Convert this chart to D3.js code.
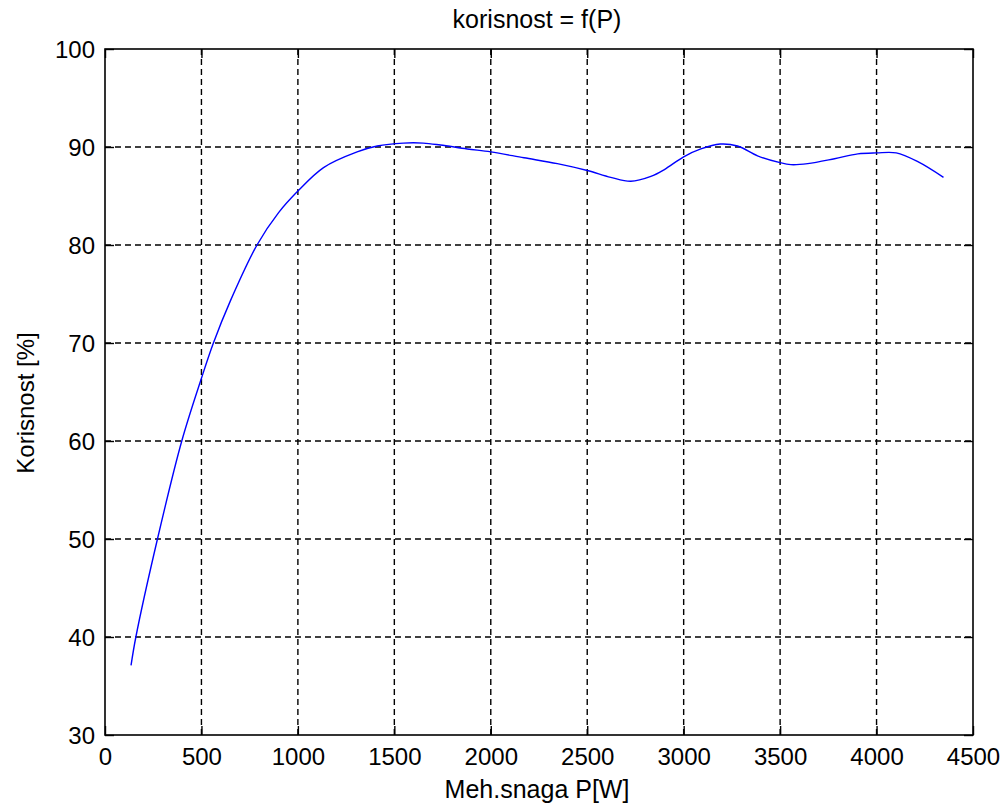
<!DOCTYPE html>
<html>
<head>
<meta charset="utf-8">
<script src="https://cdn.jsdelivr.net/npm/d3@7"></script>
<style>
html,body{margin:0;padding:0;background:#fff;}
svg{display:block;}
text{font-family:"Liberation Sans",Arial,sans-serif;fill:#000;}
</style>
</head>
<body>
<svg id="chart" width="1005" height="808"></svg>
<script>
// Data
const powerW = [135, 160, 272, 398, 500, 562, 650, 788, 900, 1000, 1133, 1307, 1411, 1547, 1650, 1739, 1878, 2000, 2172, 2345, 2500, 2622, 2726, 2830, 2900, 3000, 3089, 3189, 3279, 3383, 3500, 3556, 3643, 3782, 3903, 4000, 4102, 4214, 4347];
const efficiency = [37.1, 40.0, 50.0, 60.0, 66.4, 70.0, 74.3, 80.0, 83.3, 85.5, 87.9, 89.5, 90.1, 90.4, 90.4, 90.2, 89.8, 89.5, 88.9, 88.3, 87.6, 86.9, 86.5, 87.0, 87.7, 89.0, 89.8, 90.3, 90.1, 89.1, 88.4, 88.2, 88.3, 88.8, 89.3, 89.4, 89.4, 88.5, 86.9];
const xTicks = [0, 500, 1000, 1500, 2000, 2500, 3000, 3500, 4000, 4500];
const yTicks = [30, 40, 50, 60, 70, 80, 90, 100];
const titleText = "korisnost = f(P)";
const xLabelText = "Meh.snaga P[W]";
const yLabelText = "Korisnost [%]";

const svg = d3.select("#chart");
const L = 105, R = 973, T = 49, B = 735;
const x = d3.scaleLinear().domain([0, 4500]).range([L, R]);
const y = d3.scaleLinear().domain([30, 100]).range([B, T]);

// grid
const grid = svg.append("g").attr("stroke", "#000").attr("stroke-width", 1.4)
  .attr("stroke-dasharray", "6,4").attr("fill", "none");
xTicks.filter(v => v > 0 && v < 4500).forEach(v => {
  grid.append("line").attr("x1", x(v)).attr("x2", x(v)).attr("y1", T).attr("y2", B);
});
yTicks.filter(v => v > 30 && v < 100).forEach(v => {
  grid.append("line").attr("x1", L).attr("x2", R).attr("y1", y(v)).attr("y2", y(v));
});

// axes (ticks inside, mirrored)
const tl = 9;
const axB = svg.append("g").attr("transform", `translate(0,${B})`)
  .call(d3.axisBottom(x).tickValues(xTicks).tickSizeInner(-tl).tickSizeOuter(0).tickPadding(0).tickFormat(d3.format("d")));
const axT = svg.append("g").attr("transform", `translate(0,${T})`)
  .call(d3.axisTop(x).tickValues(xTicks).tickSizeInner(-tl).tickSizeOuter(0).tickFormat(""));
const axL = svg.append("g").attr("transform", `translate(${L},0)`)
  .call(d3.axisLeft(y).tickValues(yTicks).tickSizeInner(-tl).tickSizeOuter(0).tickFormat(d3.format("d")));
const axR = svg.append("g").attr("transform", `translate(${R},0)`)
  .call(d3.axisRight(y).tickValues(yTicks).tickSizeInner(-tl).tickSizeOuter(0).tickFormat(""));
[axB, axT, axL, axR].forEach(a => {
  a.select(".domain").remove();
  a.selectAll(".tick line").attr("stroke", "#000").attr("stroke-width", 1.4);
});
axB.selectAll(".tick text").attr("y", 30).attr("dy", null)
  .attr("font-size", 24).attr("font-family", "Liberation Sans, Arial, sans-serif").attr("fill", "#000");
axL.selectAll(".tick text").attr("x", -10).attr("dy", 8)
  .attr("font-size", 24).attr("font-family", "Liberation Sans, Arial, sans-serif").attr("fill", "#000");

// box
svg.append("rect").attr("x", L).attr("y", T).attr("width", R - L).attr("height", B - T)
  .attr("fill", "none").attr("stroke", "#000").attr("stroke-width", 1.6);

// curve
const line = d3.line().x((d, i) => x(powerW[i])).y(d => y(d)).curve(d3.curveCatmullRom.alpha(0.5));
svg.append("path").datum(efficiency).attr("d", line)
  .attr("fill", "none").attr("stroke", "#0000ff").attr("stroke-width", 1.4);

// texts
svg.append("text").attr("x", 537).attr("y", 28).attr("text-anchor", "middle")
  .attr("font-size", 25).text(titleText);
svg.append("text").attr("x", 537).attr("y", 798).attr("text-anchor", "middle")
  .attr("font-size", 25).text(xLabelText);
svg.append("text").attr("transform", "translate(34,403) rotate(-90)").attr("text-anchor", "middle")
  .attr("font-size", 24).text(yLabelText);
</script>
</body>
</html>
